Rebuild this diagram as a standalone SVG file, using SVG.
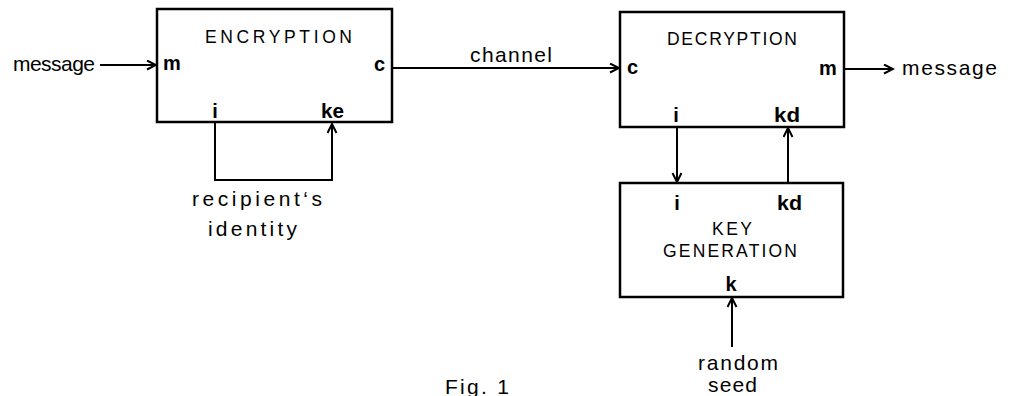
<svg xmlns="http://www.w3.org/2000/svg" width="1011" height="396" viewBox="0 0 1011 396">
<defs>
<marker id="arr" markerWidth="12" markerHeight="12" refX="10" refY="5" orient="auto" markerUnits="userSpaceOnUse">
<path d="M1,0.5 L10,5 L1,9.5" fill="none" stroke="#000" stroke-width="2"/>
</marker>
<style>
.box{fill:#fff;stroke:#000;stroke-width:2.5}
.ln{fill:none;stroke:#000;stroke-width:2}
text{font-family:"Liberation Sans",Arial,sans-serif;fill:#000}
.lc{font-size:21px}
.port{font-size:20px;font-weight:bold}
.cap{font-size:17.5px}
</style>
</defs>
<rect width="1011" height="396" fill="#fff"/>
<g id="encryption">
<rect class="box" x="157" y="9" width="235" height="113"/>
<text class="cap" x="205" y="43" textLength="147" lengthAdjust="spacing">ENCRYPTION</text>
<text class="port" x="163" y="70">m</text>
<text class="port" x="374" y="71">c</text>
<text class="port" x="215" y="118" text-anchor="middle">i</text>
<text class="port" x="321" y="118" textLength="23" lengthAdjust="spacingAndGlyphs">ke</text>
</g>
<g id="decryption">
<rect class="box" x="620" y="12" width="224" height="115"/>
<text class="cap" x="667" y="45" textLength="130" lengthAdjust="spacing">DECRYPTION</text>
<text class="port" x="627" y="74">c</text>
<text class="port" x="819" y="75">m</text>
<text class="port" x="676" y="122" text-anchor="middle">i</text>
<text class="port" x="774" y="122" textLength="26" lengthAdjust="spacingAndGlyphs">kd</text>
</g>
<g id="keygen">
<rect class="box" x="620" y="183" width="223" height="114"/>
<text class="port" x="677" y="210" text-anchor="middle">i</text>
<text class="port" x="777" y="210" textLength="25" lengthAdjust="spacingAndGlyphs">kd</text>
<text class="cap" x="712" y="235" textLength="40" lengthAdjust="spacing">KEY</text>
<text class="cap" x="663" y="257" textLength="134" lengthAdjust="spacing">GENERATION</text>
<text class="port" x="731" y="291" text-anchor="middle">k</text>
</g>
<g id="labels">
<text class="lc" x="13" y="71" textLength="82" lengthAdjust="spacing">message</text>
<text class="lc" x="470" y="62" textLength="82" lengthAdjust="spacing">channel</text>
<text class="lc" x="902" y="75" textLength="95" lengthAdjust="spacing">message</text>
<text class="lc" x="192" y="206" textLength="130" lengthAdjust="spacing">recipient‘s</text>
<text class="lc" x="208" y="236" textLength="89" lengthAdjust="spacing">identity</text>
<text class="lc" x="698" y="370" textLength="80" lengthAdjust="spacing">random</text>
<text class="lc" x="708" y="392" textLength="49" lengthAdjust="spacing">seed</text>
<text class="lc" x="445" y="394" font-size="19" textLength="64" lengthAdjust="spacing">Fig. 1</text>
</g>
<g id="connectors">
<line class="ln" x1="100" y1="65" x2="156" y2="65" marker-end="url(#arr)"/>
<line class="ln" x1="393" y1="68" x2="619" y2="68" marker-end="url(#arr)"/>
<line class="ln" x1="845" y1="69" x2="893" y2="69" marker-end="url(#arr)"/>
<polyline class="ln" points="215,123 215,180 332,180 332,124" marker-end="url(#arr)"/>
<line class="ln" x1="677" y1="128" x2="677" y2="182" marker-end="url(#arr)"/>
<line class="ln" x1="788" y1="182" x2="788" y2="128" marker-end="url(#arr)"/>
<line class="ln" x1="732" y1="347" x2="732" y2="298" marker-end="url(#arr)"/>
</g>
</svg>
